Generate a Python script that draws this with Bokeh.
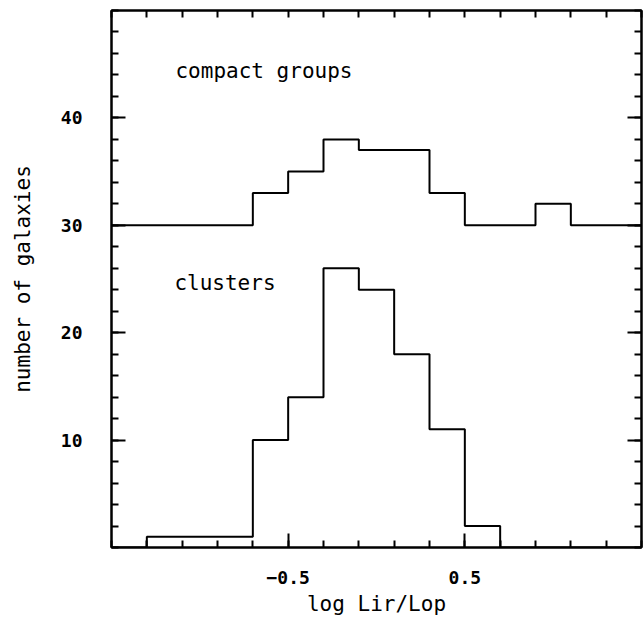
from bokeh.plotting import figure
from bokeh.models import Range1d, LinearAxis, FixedTicker, Label, CustomJSTickFormatter
from bokeh.embed import file_html
from bokeh.resources import INLINE

# ---- data ----
bin_edges = [-1.5, -1.3, -1.1, -0.9, -0.7, -0.5, -0.3, -0.1, 0.1, 0.3, 0.5, 0.7, 0.9, 1.1, 1.3, 1.5]
clusters_counts = [0, 1, 1, 1, 10, 14, 26, 24, 18, 11, 2, 0, 0, 0, 0]
groups_counts = [0, 0, 0, 0, 3, 5, 8, 7, 7, 3, 0, 0, 2, 0, 0]
groups_offset = 30
x_major = [-0.5, 0.5]
x_minor = [-1.5, -1.3, -1.1, -0.9, -0.7, -0.5, -0.3, -0.1, 0.1, 0.3, 0.5, 0.7, 0.9, 1.1, 1.3, 1.5]
y_major = [10, 20, 30, 40]
y_minor = list(range(0, 52, 2))

FONT = "DejaVu Sans Mono"

p = figure(frame_width=530, frame_height=537, output_backend="svg", toolbar_location=None,
           x_range=Range1d(-1.5, 1.5), y_range=Range1d(0, 50),
           min_border_left=111, min_border_right=2, min_border_top=10, min_border_bottom=60)
p.grid.visible = False
p.background_fill_color = "white"
p.border_fill_color = "white"
p.outline_line_color = "black"
p.outline_line_width = 2

# steps
cy = clusters_counts + [clusters_counts[-1]]
gy = [c + groups_offset for c in groups_counts] + [groups_counts[-1] + groups_offset]
p.step(x=bin_edges, y=cy, mode="after", line_color="black", line_width=2)
p.step(x=bin_edges, y=gy, mode="after", line_color="black", line_width=2)

def style(ax, labels=True):
    ax.axis_line_color = "black"
    ax.axis_line_width = 2
    ax.major_tick_line_color = "black"
    ax.major_tick_line_width = 2
    ax.minor_tick_line_color = "black"
    ax.minor_tick_line_width = 2
    ax.major_tick_in = 14
    ax.major_tick_out = 0
    ax.minor_tick_in = 7
    ax.minor_tick_out = 0
    if labels:
        ax.major_label_text_font = FONT
        ax.major_label_text_font_style = "bold"
        ax.major_label_text_font_size = "18px"
        ax.major_label_text_color = "black"
        ax.axis_label_text_font = FONT
        ax.axis_label_text_font_style = "normal"
        ax.axis_label_text_font_size = "21px"
        ax.axis_label_text_color = "black"
    else:
        ax.major_label_standoff = 0
        ax.axis_label = None

xa = p.xaxis[0]
xa.ticker = FixedTicker(ticks=x_major, minor_ticks=x_minor)
xa.axis_label = "log Lir/Lop"
style(xa)
xa.major_label_standoff = 23
xa.axis_label_standoff = 5

ya = p.yaxis[0]
ya.ticker = FixedTicker(ticks=y_major, minor_ticks=y_minor)
ya.axis_label = "number of galaxies"
style(ya)
ya.major_label_standoff = 29
ya.axis_label_standoff = 23

# frame ticks on top and right (no labels)
top = LinearAxis(ticker=FixedTicker(ticks=[], minor_ticks=x_minor))
style(top, labels=False)
p.add_layout(top, "above")
right = LinearAxis(ticker=FixedTicker(ticks=y_major, minor_ticks=y_minor),
                   formatter=CustomJSTickFormatter(code="return ''"))
style(right, labels=False)
p.add_layout(right, "right")

p.add_layout(Label(x=-1.138, y=44.35, text="compact groups", text_font=FONT,
                   text_font_size="21px", text_color="black", text_baseline="alphabetic"))
p.add_layout(Label(x=-1.144, y=24.6, text="clusters", text_font=FONT,
                   text_font_size="21px", text_color="black", text_baseline="alphabetic"))

open("out.html", "w").write(file_html(p, INLINE))
